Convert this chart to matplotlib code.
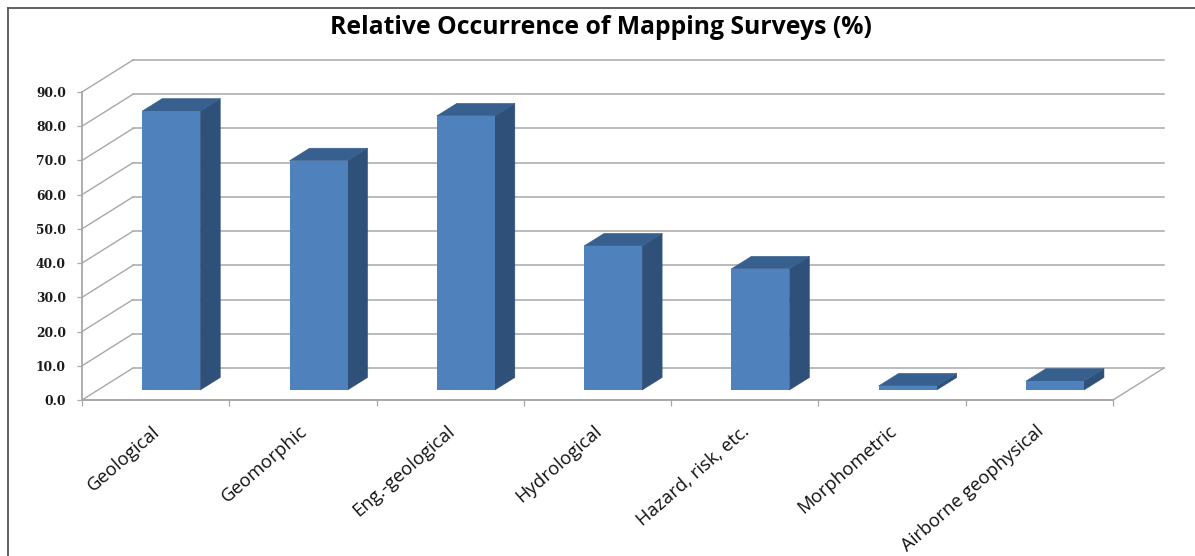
import matplotlib
matplotlib.use("Agg")
import matplotlib.pyplot as plt
from matplotlib.lines import Line2D
from matplotlib.transforms import ScaledTranslation

title = "Relative Occurrence of Mapping Surveys (%)"
categories = ["Geological", "Geomorphic", "Eng.-geological", "Hydrological",
              "Hazard, risk, etc.", "Morphometric", "Airborne geophysical"]
values = [81.5, 67.0, 80.1, 42.1, 35.4, 1.2, 2.6]
y_ticks = [0, 10, 20, 30, 40, 50, 60, 70, 80, 90]

W, H = 1195, 556
fig = plt.figure(figsize=(W / 100, H / 100), dpi=100, facecolor="white")

# plot region in pixels
L, R, B, T = 82, 1164, 400, 60
ax = fig.add_axes([L / W, 1 - B / H, (R - L) / W, (B - T) / H])

px_x = 1031 / 7          # pixels per category
px_y = 308 / 90          # pixels per value unit
wall_dx, wall_dy = 51 / px_x, 32 / px_y      # front plane to back wall
bar_dx, bar_dy = 15.6 / px_x, 10 / px_y      # front plane to bar front
dep_dx, dep_dy = 20 / px_x, 12.5 / px_y      # bar depth
bar_w = 58 / px_x

n = len(categories)
ax.set_xlim(-0.5, n - 0.5 + wall_dx)
ax.set_ylim(0, 90 + wall_dy)
ax.patch.set_visible(False)
for s in ax.spines.values():
    s.set_visible(False)

GRID = "#a8a8a8"
FRONT, SIDE, TOP = "#4f81bd", "#2f5078", "#38608f"

# walls and floor
for v in y_ticks:
    ax.plot([-0.5, -0.5 + wall_dx], [v, v + wall_dy], color=GRID, lw=1.0, zorder=1, clip_on=False)
    ax.plot([-0.5 + wall_dx, n - 0.5 + wall_dx], [v + wall_dy] * 2, color=GRID, lw=1.1, zorder=1, clip_on=False)
ax.plot([n - 0.5, n - 0.5 + wall_dx], [0, wall_dy], color=GRID, lw=1.0, zorder=1, clip_on=False)
ax.plot([-0.5, -0.5], [0, 90], color=GRID, lw=1.3, zorder=1, clip_on=False)
ax.plot([-0.5, n - 0.5], [0, 0], color=GRID, lw=1.4, zorder=1, clip_on=False)

# bars
for i, v in enumerate(values):
    x0 = i + bar_dx - bar_w / 2
    x1 = x0 + bar_w
    y0 = bar_dy
    y1 = y0 + v
    ax.fill([x1, x1 + dep_dx, x1 + dep_dx, x1],
            [y0, y0 + dep_dy, y1 + dep_dy, y1], facecolor=SIDE, edgecolor=SIDE, lw=0.4, zorder=3 + i)
    ax.fill([x0, x1, x1 + dep_dx, x0 + dep_dx],
            [y1, y1, y1 + dep_dy, y1 + dep_dy], facecolor=TOP, edgecolor=TOP, lw=0.4, zorder=3 + i)
    ax.bar(i + bar_dx, v, width=bar_w, bottom=y0, color=FRONT, lw=0, zorder=3 + i)

# axes ticks
ax.set_yticks(y_ticks)
ax.set_yticklabels([f"{v:.1f}" for v in y_ticks], family="DejaVu Serif",
                   fontweight="bold", fontsize=8.8, color="#1a1a1a")
ax.tick_params(axis="y", length=3.6, width=0.9, color=GRID, pad=8)

ax.set_xticks([i - 0.5 for i in range(n + 1)])
ax.set_xticklabels([])
ax.tick_params(axis="x", which="major", length=4.5, width=0.9, color=GRID)
ax.set_xticks(range(n), minor=True)
ax.set_xticklabels(categories, minor=True, rotation=41, ha="right", va="top",
                   rotation_mode="anchor", family="Open Sans", fontsize=13.3, color="#111111")
ax.tick_params(axis="x", which="minor", length=0, pad=16)
shift = ScaledTranslation(-4 / 100, 0, fig.dpi_scale_trans)
for lab in ax.get_xticklabels(minor=True):
    lab.set_transform(lab.get_transform() + shift)

fig.text(601 / W, 1 - 28 / H, title, ha="center", va="center",
         family="Open Sans", fontweight="bold", fontsize=17.8, color="black")

# chart frame
FRAME = "#555555"
fig.add_artist(Line2D([8 / W, 8 / W], [0, 1 - 8 / H], color=FRAME, lw=1.3))
fig.add_artist(Line2D([8 / W, 1], [1 - 8 / H, 1 - 8 / H], color=FRAME, lw=1.3))

fig.savefig("out.png", dpi=100)
